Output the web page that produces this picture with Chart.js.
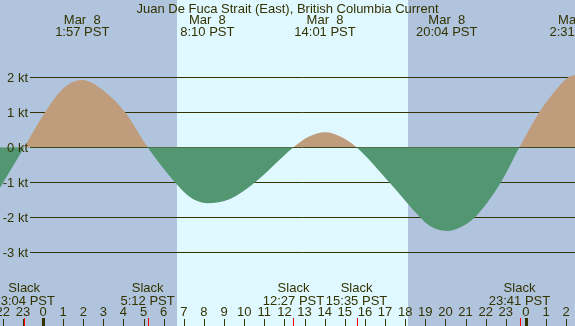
<!DOCTYPE html>
<html><head><meta charset="utf-8">
<script src="https://cdn.jsdelivr.net/npm/chart.js@4"></script>
<style>html,body{margin:0;padding:0;background:#b0c4de;overflow:hidden}</style>
</head><body>
<canvas id="c" width="575" height="326" style="width:575px;height:326px;display:block"></canvas>
<script>
const title = "Juan De Fuca Strait (East), British Columbia Current";
// curve samples: hours since midnight Mar 8, knots
const curveHours = [-2.15, -0.93, 0.10, 1.00, 1.95, 3.00, 4.08, 5.20, 6.56, 7.30, 8.17, 9.30, 10.54, 12.45, 13.20, 14.02, 14.80, 15.58, 17.21, 18.74, 19.23, 20.07, 20.80, 21.47, 22.76, 23.68, 24.67, 25.40, 26.11, 26.52];
const curveKnots = [-1.17, 0, 1.00, 1.68, 1.92, 1.62, 1.00, 0, -1.00, -1.42, -1.60, -1.48, -1.00, 0, 0.30, 0.43, 0.30, 0, -1.00, -2.00, -2.25, -2.39, -2.27, -2.00, -1.00, 0, 1.00, 1.57, 2.00, 2.08];
const maxHours = [1.95, 8.167, 14.017, 20.067, 26.517];
const maxDates = ["Mar  8", "Mar  8", "Mar  8", "Mar  8", "Mar  9"];
const maxTimes = ["1:57 PST", "8:10 PST", "14:01 PST", "20:04 PST", "2:31 PST"];
const slackHours = [-0.933, 5.2, 12.45, 15.583, 23.683];
const slackTimes = ["23:04 PST", "5:12 PST", "12:27 PST", "15:35 PST", "23:41 PST"];
const tickHours = [-2,-1,0,1,2,3,4,5,6,7,8,9,10,11,12,13,14,15,16,17,18,19,20,21,22,23,24,25,26];
const tickLabels = ["22","23","0","1","2","3","4","5","6","7","8","9","10","11","12","13","14","15","16","17","18","19","20","21","22","23","0","1","2"];
const midnightHours = [0, 24];
const gridKnots = [2, 1, 0, -1, -2, -3];
const gridLabels = ["2 kt", "1 kt", "0 kt", "-1 kt", "-2 kt", "-3 kt"];
const sunriseHour = 6.66, sunsetHour = 18.15;

const NIGHT = '#b0c4de', DAY = '#e0f8ff', FLOOD = '#bf9c7b', EBB = '#529672', INK = '#333300';
const FONT = '13px "Liberation Sans", Arial, sans-serif';

const deco = {
  id: 'deco',
  beforeDraw(chart) {
    const {ctx, width, height, scales:{x}} = chart;
    ctx.save();
    ctx.fillStyle = NIGHT; ctx.fillRect(0, 0, width, height);
    const a = Math.round(x.getPixelForValue(sunriseHour)), b = Math.round(x.getPixelForValue(sunsetHour));
    ctx.fillStyle = DAY; ctx.fillRect(a, 0, b - a, height);
    ctx.restore();
  },
  beforeDatasetsDraw(chart) {
    const {ctx, width, scales:{y}} = chart;
    ctx.save();
    ctx.strokeStyle = INK; ctx.lineWidth = 1;
    gridKnots.forEach(k => {
      const py = Math.round(y.getPixelForValue(k)) + 0.5;
      ctx.beginPath(); ctx.moveTo(30, py); ctx.lineTo(width, py); ctx.stroke();
    });
    ctx.restore();
  },
  afterDatasetsDraw(chart) {
    const {ctx, width, height, scales:{x, y}} = chart;
    ctx.save();
    ctx.font = FONT; ctx.fillStyle = INK; ctx.textBaseline = 'alphabetic';
    ctx.textAlign = 'right';
    gridKnots.forEach((k, i) => ctx.fillText(gridLabels[i], 28, y.getPixelForValue(k) + 4.7));
    ctx.textAlign = 'center';
    ctx.fillText(title, width / 2, 12.5);
    maxHours.forEach((h, i) => {
      const px = x.getPixelForValue(h);
      ctx.fillText(maxDates[i], px, 23.5);
      ctx.fillText(maxTimes[i], px, 36);
    });
    slackHours.forEach((h, i) => {
      const px = x.getPixelForValue(h);
      ctx.fillText("Slack", px, 292);
      ctx.fillText(slackTimes[i], px, 304.5);
    });
    tickHours.forEach((h, i) => {
      const px = x.getPixelForValue(h);
      ctx.fillText(tickLabels[i], px, 316);
      ctx.strokeStyle = INK; ctx.lineWidth = 1;
      const rx = Math.round(px) + 0.5;
      ctx.beginPath(); ctx.moveTo(rx, 319); ctx.lineTo(rx, height); ctx.stroke();
    });
    midnightHours.forEach(h => {
      const px = Math.round(x.getPixelForValue(h));
      ctx.fillStyle = INK; ctx.fillRect(px - 1, 318, 3, height - 318);
    });
    slackHours.forEach(h => {
      const px = Math.round(x.getPixelForValue(h));
      ctx.fillStyle = '#ff0000'; ctx.fillRect(px, 318, 1, height - 318);
    });
    ctx.restore();
  }
};

new Chart(document.getElementById('c'), {
  type: 'line',
  data: { datasets: [{
    data: curveHours.map((h, i) => ({x: h, y: curveKnots[i]})),
    borderWidth: 0, borderColor: 'rgba(0,0,0,0)', pointRadius: 0,
    cubicInterpolationMode: 'monotone',
    fill: {target: 'origin', above: FLOOD, below: EBB}
  }]},
  options: {
    responsive: false, animation: false, events: [],
    layout: {padding: 0},
    plugins: {legend: {display: false}, tooltip: {enabled: false}},
    scales: {
      x: {type: 'linear', min: -43 / 20.12, max: (575 - 43) / 20.12, display: false},
      y: {type: 'linear', min: -(326 - 147.3) / 35, max: 147.3 / 35, display: false}
    }
  },
  plugins: [deco]
});
</script>
</body></html>
